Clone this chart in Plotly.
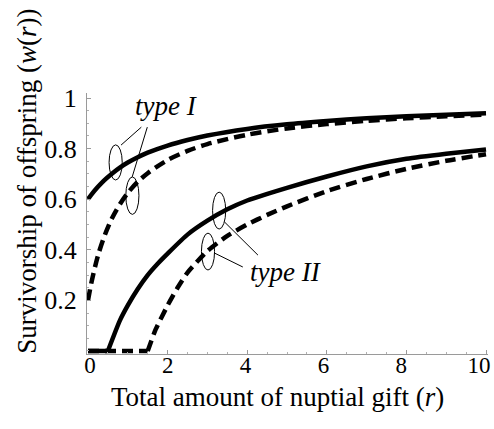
import plotly.graph_objects as go

# ---- data ----
r_type1 = [0, 0.1, 0.25, 0.4, 0.6, 0.8, 1, 1.25, 1.5, 2, 2.5, 3, 4, 5, 6, 7, 8, 9, 10]
w_type1_solid = [0.600, 0.621, 0.649, 0.674, 0.701, 0.725, 0.745, 0.766, 0.784, 0.812,
                 0.834, 0.852, 0.878, 0.896, 0.909, 0.920, 0.928, 0.934, 0.940]
w_type1_dashed = [0.200, 0.281, 0.377, 0.449, 0.524, 0.580, 0.625, 0.669, 0.703, 0.755,
                  0.791, 0.818, 0.855, 0.880, 0.897, 0.910, 0.920, 0.928, 0.935]

r_type2_solid = [0, 0.5, 0.8, 1, 1.25, 1.5, 1.75, 2, 2.5, 3, 3.5, 4, 5, 6, 7, 8, 9, 10]
w_type2_solid = [0, 0, 0.12, 0.18, 0.245, 0.30, 0.345, 0.385, 0.46, 0.515, 0.56, 0.595,
                 0.645, 0.69, 0.73, 0.76, 0.78, 0.797]

r_type2_dashed = [0, 1.5, 1.7, 2, 2.25, 2.5, 3, 3.5, 4, 4.5, 5, 6, 7, 8, 9, 10]
w_type2_dashed = [0, 0, 0.085, 0.18, 0.25, 0.31, 0.395, 0.455, 0.50, 0.538, 0.572,
                  0.632, 0.68, 0.72, 0.752, 0.778]

x_ticks = [0, 2, 4, 6, 8, 10]
y_ticks = [0.2, 0.4, 0.6, 0.8, 1]
y_ticktext = ["0.2", "0.4", "0.6", "0.8", "1"]

FONT = "Liberation Serif"
LW = 4.5
DASH = "11px,6px"
X_RANGE = [-0.025, 10.05]
X_LABEL_RANGE = [-0.077, 10.23]

fig = go.Figure()
fig.add_trace(go.Scatter(x=r_type1, y=w_type1_solid, mode="lines",
                         line=dict(color="black", width=LW, shape="spline", smoothing=0.8)))
fig.add_trace(go.Scatter(x=r_type1, y=w_type1_dashed, mode="lines",
                         line=dict(color="black", width=LW, dash=DASH, shape="spline", smoothing=0.8)))
fig.add_trace(go.Scatter(x=r_type2_solid[1:], y=w_type2_solid[1:], mode="lines",
                         line=dict(color="black", width=LW, shape="spline", smoothing=0.6)))
fig.add_trace(go.Scatter(x=r_type2_solid[:2], y=w_type2_solid[:2], mode="lines",
                         line=dict(color="black", width=LW)))
fig.add_trace(go.Scatter(x=r_type2_dashed[1:], y=w_type2_dashed[1:], mode="lines",
                         line=dict(color="black", width=LW, dash=DASH, shape="spline", smoothing=0.6)))
fig.add_trace(go.Scatter(x=r_type2_dashed[:2], y=w_type2_dashed[:2], mode="lines",
                         line=dict(color="black", width=LW, dash=DASH)))
# invisible trace so the label-only overlay axis is drawn
fig.add_trace(go.Scatter(x=X_LABEL_RANGE, y=[None, None], xaxis="x2", mode="lines",
                         hoverinfo="skip", showlegend=False))

# ellipses and pointer lines of the labels (data coordinates)
ellipses = [(0.53, 0.86, 0.676, 0.815), (0.95, 1.28, 0.540, 0.688),
            (3.13, 3.46, 0.482, 0.628), (2.85, 3.18, 0.320, 0.466)]
for x0, x1, y0, y1 in ellipses:
    fig.add_shape(type="circle", xref="x", yref="y", x0=x0, x1=x1, y0=y0, y1=y1,
                  line=dict(color="black", width=1))
pointers = [(0.83, 0.814, 1.34, 0.885), (1.11, 0.688, 1.49, 0.885),
            (3.43, 0.51, 4.27, 0.379), (3.18, 0.387, 3.89, 0.332)]
for x0, y0, x1, y1 in pointers:
    fig.add_shape(type="line", xref="x", yref="y", x0=x0, y0=y0, x1=x1, y1=y1,
                  line=dict(color="black", width=1))

fig.add_annotation(x=1.97, y=0.968, xref="x", yref="y", text="<i>type I</i>",
                   showarrow=False, font=dict(family=FONT, size=27, color="black"),
                   xanchor="center", yanchor="middle")
fig.add_annotation(x=4.97, y=0.312, xref="x", yref="y", text="<i>type II</i>",
                   showarrow=False, font=dict(family=FONT, size=27, color="black"),
                   xanchor="center", yanchor="middle")

# axis titles
fig.add_annotation(x=0.474, y=-0.165, xref="paper", yref="paper",
                   text="Total amount of nuptial gift (<i>r</i>)",
                   showarrow=False, font=dict(family=FONT, size=27, color="black"),
                   xanchor="center", yanchor="middle")
fig.add_annotation(x=-0.15, y=0.663, xref="paper", yref="paper",
                   text="Survivorship of offspring (<i>w</i>(<i>r</i>))", textangle=-90,
                   showarrow=False, font=dict(family=FONT, size=27, color="black"),
                   xanchor="center", yanchor="middle")

axis_common = dict(showgrid=False, zeroline=False, showline=True, linecolor="#9a9a9a",
                   linewidth=1, ticks="inside", ticklen=4, tickcolor="#9a9a9a",
                   automargin=False)

fig.update_layout(
    template="none",
    width=494, height=429,
    margin=dict(l=87, r=6, t=93, b=75),
    plot_bgcolor="white", paper_bgcolor="white",
    font=dict(family=FONT, color="black"),
    showlegend=False,
    xaxis=dict(range=X_RANGE, tickvals=x_ticks, showticklabels=False,
               minor=dict(ticks="inside", ticklen=2, dtick=0.5, tickcolor="#b0b0b0"),
               **axis_common),
    xaxis2=dict(range=X_LABEL_RANGE, overlaying="x", anchor="free", position=0.02,
                side="bottom", automargin=False,
                showgrid=False, zeroline=False, showline=False, ticks="",
                tickvals=x_ticks, ticktext=[str(v) for v in x_ticks],
                ticklabeloverflow="allow",
                tickfont=dict(family=FONT, size=23, color="black")),
    yaxis=dict(range=[-0.012, 1.02], tickvals=y_ticks, ticktext=y_ticktext,
               ticklabelstandoff=4,
               tickfont=dict(family=FONT, size=26, color="black"),
               minor=dict(ticks="inside", ticklen=2, dtick=0.05, tickcolor="#b0b0b0"),
               **axis_common),
)

fig.write_html("out.html", config={"displayModeBar": False},
               post_script="document.body.style.margin='0';")
